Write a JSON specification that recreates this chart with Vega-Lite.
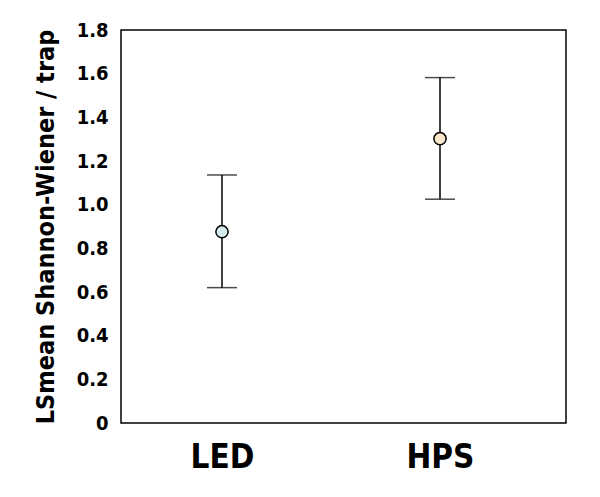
{
  "$schema": "https://vega.github.io/schema/vega-lite/v6.json",
  "width": 445,
  "height": 393,
  "autosize": "none",
  "padding": {"left": 121, "top": 30, "right": 34, "bottom": 74},
  "background": "white",
  "config": {
    "view": {"stroke": "black", "strokeWidth": 1.5},
    "font": "DejaVu Sans Condensed"
  },
  "data": {
    "values": [
      {"light": "LED", "mean": 0.876, "lo": 0.62, "hi": 1.136},
      {"light": "HPS", "mean": 1.302, "lo": 1.025, "hi": 1.582}
    ]
  },
  "encoding": {
    "x": {
      "field": "light",
      "type": "nominal",
      "sort": ["LED", "HPS"],
      "scale": {"type": "point", "range": [101, 319], "padding": 0},
      "axis": {
        "title": null, "domain": false, "ticks": false, "grid": false,
        "labelAngle": 0, "labelFont": "DejaVu Sans Condensed", "labelFontSize": 33,
        "labelFontWeight": "bold", "labelColor": "black", "labelPadding": 18
      }
    }
  },
  "layer": [
    {
      "mark": {"type": "rule", "color": "black", "strokeWidth": 1.5},
      "encoding": {
        "y": {"field": "lo", "type": "quantitative",
          "scale": {"domain": [0, 1.8], "nice": false},
          "axis": {
            "title": "LSmean Shannon-Wiener / trap",
            "titleFont": "DejaVu Sans Condensed", "titleFontSize": 25, "titleFontWeight": "bold",
            "titleColor": "black", "titlePadding": 18,
            "values": [0, 0.2, 0.4, 0.6, 0.8, 1.0, 1.2, 1.4, 1.6, 1.8],
            "labelExpr": "datum.value == 0 ? '0' : format(datum.value, '.1f')",
            "domain": false, "ticks": false, "grid": false,
            "labelFont": "DejaVu Sans Condensed", "labelFontSize": 20, "labelFontWeight": "bold", "labelColor": "black",
            "labelPadding": 13
          }
        },
        "y2": {"field": "hi"}
      }
    },
    {
      "mark": {"type": "tick", "color": "black", "thickness": 1.5, "size": 30},
      "encoding": {"y": {"field": "lo", "type": "quantitative"}}
    },
    {
      "mark": {"type": "tick", "color": "black", "thickness": 1.5, "size": 30},
      "encoding": {"y": {"field": "hi", "type": "quantitative"}}
    },
    {
      "mark": {"type": "point", "filled": true, "shape": "circle", "size": 150, "stroke": "black", "strokeWidth": 1.5, "opacity": 1},
      "encoding": {
        "y": {"field": "mean", "type": "quantitative"},
        "fill": {
          "field": "light", "type": "nominal",
          "scale": {"domain": ["LED", "HPS"], "range": ["#d2eced", "#fbe6cb"]},
          "legend": null
        }
      }
    }
  ]
}
